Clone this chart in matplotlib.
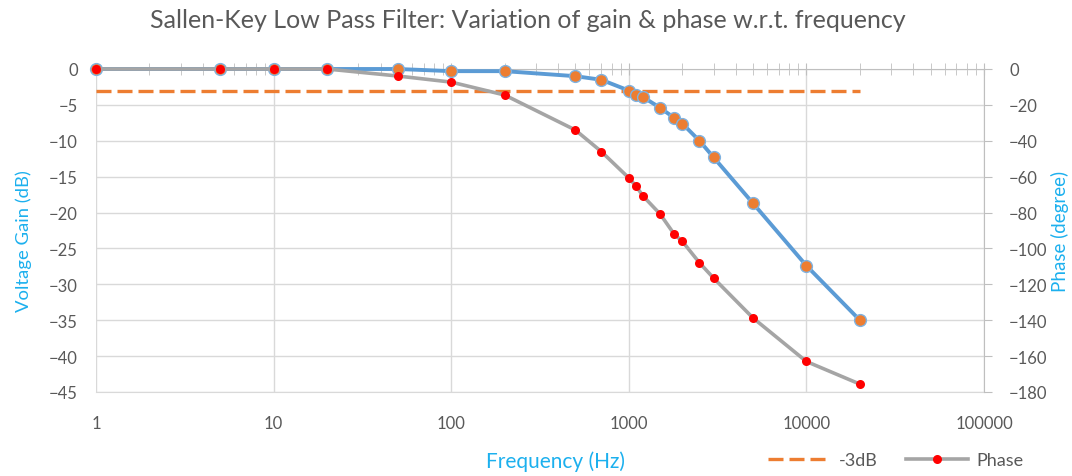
import numpy as np
import matplotlib
matplotlib.use('Agg')
import matplotlib.pyplot as plt
from matplotlib.lines import Line2D

plt.rcParams['font.family'] = ['Lato', 'DejaVu Sans']

# Measured data
freq = [1, 5, 10, 20, 50, 100, 200, 500, 700, 1000, 1100, 1200, 1500, 1800,
        2000, 2500, 3000, 5000, 10000, 20000]
gain_db = [0, 0, 0, 0, 0, -0.3, -0.3, -1.0, -1.5, -3.0, -3.6, -3.9, -5.4, -6.8,
           -7.6, -10.0, -12.3, -18.7, -27.4, -35.0]
phase_deg = [0, 0, 0, 0, -3.9, -7.3, -14.5, -34, -46, -60.7, -65.3, -70.7, -80.8,
             -92, -96, -108, -116.5, -138.7, -163, -175.6]
cutoff_f = [1, 20000]
cutoff_db = [-3, -3]

xticks = [1, 10, 100, 1000, 10000, 100000]
xticklabels = ['1', '10', '100', '1000', '10000', '100000']

grey_txt = '#595959'
blue_txt = '#1CB0EE'
grid_c = '#D9D9D9'
axis_c = '#BFBFBF'

fig = plt.figure(figsize=(10.72, 4.77), dpi=100)
ax = fig.add_axes([96 / 1072, 1 - 393 / 477, (984 - 96) / 1072, (393 - 70) / 477])
ax2 = ax.twinx()

ax.set_xscale('log')
ax.set_xlim(1, 100000)
ax.set_ylim(-45, 0)
ax.set_yticks(np.arange(-45, 1, 5))
ax.set_xticks(xticks)
ax.set_xticklabels(xticklabels)
ax.grid(True, which='major', color=grid_c, lw=1)
ax.set_axisbelow(True)

for s in ['right', 'left']:
    ax.spines[s].set_visible(False)
ax.spines['bottom'].set_color(grid_c)
ax.spines['top'].set_color(axis_c)
ax.tick_params(axis='x', which='both', bottom=False, top=True, labelbottom=True,
               labeltop=False, direction='inout', length=9, color=axis_c,
               labelsize=12, labelcolor=grey_txt, pad=12)
ax.tick_params(axis='y', length=0, labelsize=12, labelcolor=grey_txt, pad=13)

ax2.set_ylim(-180, 0)
ax2.set_yticks(np.arange(-180, 1, 20))
for s in ['top', 'left', 'bottom']:
    ax2.spines[s].set_visible(False)
ax2.spines['right'].set_color(axis_c)
ax2.tick_params(axis='y', length=6, color=axis_c, labelsize=12,
                labelcolor=grey_txt, pad=12)

ax.plot(freq, gain_db, color='#5B9BD5', lw=2.8, marker='o', ms=8.5,
        mfc='#ED7D31', mec='#7FB2E0', mew=1.0, clip_on=False, zorder=3)
ax.plot(cutoff_f, cutoff_db, color='#ED7D31', lw=2.4, dashes=(4.5, 1.8),
        dash_capstyle='butt', zorder=2)
ax2.plot(freq, phase_deg, color='#A5A5A5', lw=2.6, marker='o', ms=6.5,
         mfc='#FF0000', mec='#FF0000', mew=0, clip_on=False, zorder=3)

ax.set_ylabel('Voltage Gain (dB)', color=blue_txt, fontsize=13.3)
ax.yaxis.set_label_coords(-64 / 888, (393 - 241) / 323)
ax2.set_ylabel('Phase (degree)', color=blue_txt, fontsize=13.5)
ax2.yaxis.set_label_coords(1 + 67 / 888, (393 - 231) / 323)
fig.text(556 / 1072, 1 - 462 / 477, 'Frequency (Hz)', color=blue_txt,
         fontsize=15, ha='center', va='center')
fig.text(528 / 1072, 1 - 20 / 477,
         'Sallen-Key Low Pass Filter: Variation of gain & phase w.r.t. frequency',
         color=grey_txt, fontsize=18, ha='center', va='center')

handles = [Line2D([], [], color='#ED7D31', lw=2.4, dashes=(4.5, 1.8)),
           Line2D([], [], color='#A5A5A5', lw=2.6, marker='o', ms=6.5,
                  mfc='#FF0000', mec='#FF0000', mew=0)]
leg = fig.legend(handles, ['-3dB', 'Phase'], loc='center',
                 bbox_to_anchor=(896 / 1072, 1 - 461 / 477), ncol=2, frameon=False,
                 fontsize=13, handlelength=3.4, columnspacing=1.6, handletextpad=0.5)
for t in leg.get_texts():
    t.set_color(grey_txt)

fig.savefig('out.png', dpi=100)
